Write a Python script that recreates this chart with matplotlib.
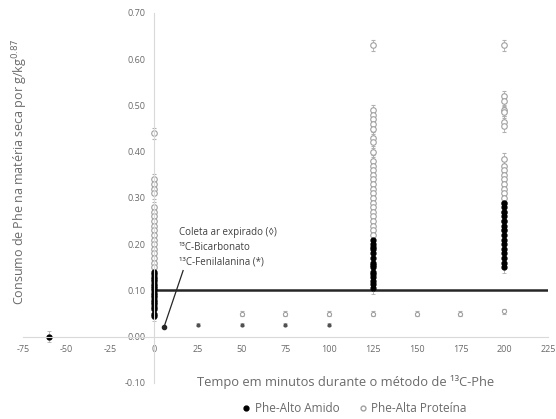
import matplotlib.pyplot as plt

plt.rcParams['font.family'] = ['Open Sans', 'DejaVu Sans']

# Phe-Alto Amido (black, filled)
amido_x = [-60] + [0] * 19 + [125] * 15 + [200] * 15
amido_y = ([0.00] +
           [0.14, 0.135, 0.13, 0.125, 0.12, 0.115, 0.11, 0.105, 0.10, 0.095,
            0.09, 0.085, 0.08, 0.075, 0.07, 0.065, 0.06, 0.05, 0.045] +
           [0.21, 0.20, 0.195, 0.19, 0.18, 0.17, 0.16, 0.155, 0.15, 0.14,
            0.135, 0.13, 0.12, 0.115, 0.105] +
           [0.29, 0.28, 0.27, 0.26, 0.25, 0.24, 0.23, 0.22, 0.21, 0.20,
            0.19, 0.18, 0.17, 0.16, 0.15])
# small black points (13C-Fenilalanina collections)
fen_x = [25, 50, 75, 100]
fen_y = [0.026, 0.026, 0.026, 0.026]

# Phe-Alta Proteina (open circles)
prot_x = [0] * 19 + [125] * 26 + [200] * 20
prot_y = ([0.44, 0.34, 0.33, 0.32, 0.31, 0.28, 0.27, 0.26, 0.25, 0.24,
           0.23, 0.22, 0.21, 0.20, 0.19, 0.18, 0.17, 0.16, 0.15] +
          [0.63, 0.49, 0.48, 0.47, 0.46, 0.45, 0.43, 0.42, 0.40, 0.38,
           0.37, 0.36, 0.35, 0.34, 0.33, 0.32, 0.31, 0.30, 0.29, 0.28,
           0.27, 0.26, 0.25, 0.24, 0.23, 0.22] +
          [0.63, 0.52, 0.51, 0.49, 0.485, 0.465, 0.455, 0.385, 0.37, 0.36,
           0.35, 0.34, 0.33, 0.32, 0.31, 0.30, 0.29, 0.27, 0.25, 0.23])
# expired air collections (open)
air_x = [50, 75, 100, 125, 150, 175, 200]
air_y = [0.05, 0.05, 0.05, 0.05, 0.05, 0.05, 0.055]

ref_line = 0.10
err = 0.012

x_ticks = [-75, -50, -25, 0, 25, 50, 75, 100, 125, 150, 175, 200, 225]
y_ticks = [-0.10, 0.00, 0.10, 0.20, 0.30, 0.40, 0.50, 0.60, 0.70]

grey = '#6a6a6a'
fig = plt.figure(figsize=(5.56, 4.19), dpi=100)
ax = fig.add_axes([0.0414, 0.086, 0.944, 0.883])

ebar = dict(ecolor='#b0b0b0', elinewidth=0.6, capsize=1.2, capthick=0.6, linestyle='none')
ax.errorbar(prot_x, prot_y, yerr=err, fmt='o', ms=4, mfc='white', mec='#a0a0a0',
            mew=0.8, **ebar)
ax.errorbar(air_x, air_y, yerr=0.006, fmt='o', ms=3, mfc='white', mec='#a0a0a0',
            mew=0.8, **ebar)
ax.errorbar(amido_x, amido_y, yerr=err, fmt='o', ms=3.5, mfc='black', mec='black', **ebar)
ax.errorbar(fen_x, fen_y, yerr=0.003, fmt='o', ms=2, mfc='#505050', mec='#505050', **ebar)

ax.plot([0, 225], [ref_line, ref_line], color='#262626', lw=1.8, zorder=1)

# annotation
ax.plot([16.5, 5.5], [0.143, 0.02], color='#262626', lw=0.9)
ax.plot([5.5], [0.02], 'o', color='#262626', ms=3)
ax.text(14, 0.237, 'Coleta ar expirado (◊)\n¹³C-Bicarbonato\n¹³C-Fenilalanina (*)',
        fontsize=7, color='#404040', va='top', ha='left', linespacing=1.45)

ax.set_xlim(-75, 225)
ax.set_ylim(-0.10, 0.70)
ax.spines['left'].set_position(('data', 0))
ax.spines['bottom'].set_position(('data', 0))
for s in ['top', 'right']:
    ax.spines[s].set_visible(False)
for s in ['left', 'bottom']:
    ax.spines[s].set_color('#d9d9d9')
    ax.spines[s].set_linewidth(0.8)
ax.set_xticks(x_ticks)
ax.set_xticklabels([str(t) for t in x_ticks])
ax.set_yticks(y_ticks)
ax.set_yticklabels([f'{t:.2f}' for t in y_ticks])
ax.tick_params(length=0, labelsize=6.5, labelcolor=grey, pad=6)
ax.patch.set_alpha(0)

fig.text(0.036, 0.59, 'Consumo de Phe na matéria seca por g/kg$^{0.87}$', rotation=90,
         ha='center', va='center', fontsize=9, color=grey)
fig.text(0.622, 0.088, 'Tempo em minutos durante o método de ¹³C-Phe',
         ha='center', va='center', fontsize=9.3, color=grey)

h1 = plt.Line2D([], [], marker='o', ls='none', ms=3.5, mfc='black', mec='black')
h2 = plt.Line2D([], [], marker='o', ls='none', ms=3.5, mfc='white', mec='#a0a0a0')
fig.legend([h1, h2], ['Phe-Alto Amido', 'Phe-Alta Proteína'], loc='center',
           bbox_to_anchor=(0.636, 0.024), ncol=2, frameon=False, fontsize=8.5,
           labelcolor=grey, handletextpad=0.2, columnspacing=1.5, handlelength=1)

fig.savefig('out.png', dpi=100)
